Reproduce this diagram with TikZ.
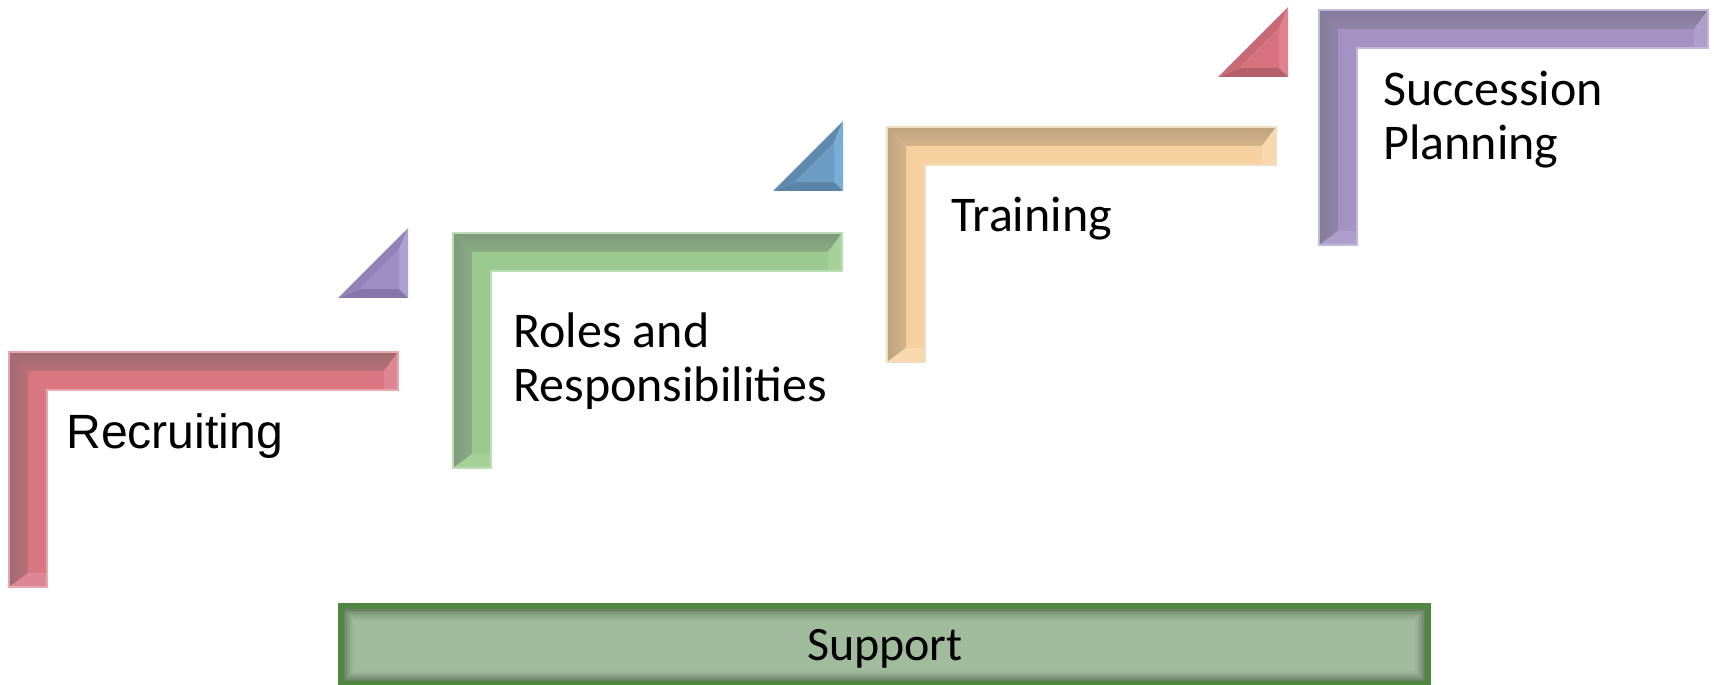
\documentclass[tikz,border=0pt]{standalone}
\usepackage{fontspec}
\setmainfont{Carlito}
\newfontfamily\arialfont{Liberation Sans}
\usetikzlibrary{positioning}
% step colours: L face, D dark facet, E end facet, O outline
\definecolor{Lred}{HTML}{D87782}
\definecolor{Dred}{HTML}{A26A6F}
\definecolor{Ered}{HTML}{DC8793}
\definecolor{Ored}{HTML}{E6A7AF}
\definecolor{Lgreen}{HTML}{9BC98F}
\definecolor{Dgreen}{HTML}{7D997A}
\definecolor{Egreen}{HTML}{A6D29A}
\definecolor{Ogreen}{HTML}{BCDCB3}
\definecolor{Ltan}{HTML}{F6D09E}
\definecolor{Dtan}{HTML}{BDA27E}
\definecolor{Etan}{HTML}{F8D9AE}
\definecolor{Otan}{HTML}{F1DEC2}
\definecolor{Lpurple}{HTML}{A592C3}
\definecolor{Dpurple}{HTML}{847A98}
\definecolor{Epurple}{HTML}{AE9ECC}
\definecolor{Opurple}{HTML}{C4B8D8}
% arrow triangles: H hypotenuse, R right, B bottom, F face
\definecolor{Hblue}{HTML}{5F8AB0}
\definecolor{Rblue}{HTML}{78ADD5}
\definecolor{Bblue}{HTML}{5A84A8}
\definecolor{Fblue}{HTML}{6B9CC4}
\definecolor{Hpurple}{HTML}{9282B7}
\definecolor{Rpurple}{HTML}{AE9FD5}
\definecolor{Bpurple}{HTML}{8575A8}
\definecolor{Fpurple}{HTML}{9D8DC5}
\definecolor{Hred}{HTML}{C96976}
\definecolor{Rred}{HTML}{E2808D}
\definecolor{Bred}{HTML}{B3606B}
\definecolor{Fred}{HTML}{D6717E}
% support bar
\definecolor{Sborder}{HTML}{4F8741}
\definecolor{Sshadow}{HTML}{6A8165}
\definecolor{Sfill}{HTML}{A1BB9D}
\tikzset{
  steptext/.style={anchor=base west,inner sep=0pt,align=left,
    font=\fontsize{28.45}{31.3}\selectfont},
}

\begin{document}
\begin{tikzpicture}[x=0.02cm,y=-0.02cm]
\useasboundingbox (0,0) rectangle (1714,685);
% the four steps
\foreach \x/\y/\c in {9/352/red,453/233/green,887/127/tan,1319/10/purple}{
  \begin{scope}[shift={(\x,\y)}]
  \fill[L\c] (0,0) -| (389,38) -| (38,235) -| (0,0) -- cycle;
  \shade[top color=D\c,bottom color=D\c!60!L\c] (0,0) -- (389,0) -- (375,19) -- (19,19) -- cycle;
  \shade[left color=D\c,right color=D\c!60!L\c] (0,0) -- (19,19) -- (19,221) -- (0,235) -- cycle;
  \fill[E\c] (389,0) -- (389,38) -- (375,38) -- (375,19) -- cycle;
  \fill[E\c] (0,235) -- (38,235) -- (38,221) -- (19,221) -- cycle;
  \draw[O\c,line width=1pt] (0,0) -| (389,38) -| (38,235) -| (0,0) -- cycle;
  \end{scope}
}
% small triangles between the steps
\foreach \x/\y/\c in {408/298/purple,843/191/blue,1288/77/red}{
  \begin{scope}[shift={(\x,\y)}]
  \fill[H\c] (-70,0) -- (0,-70) -- (-9,-48) -- (-48,-9) -- cycle;
  \fill[R\c] (0,-70) -- (0,0) -- (-9,-9) -- (-9,-48) -- cycle;
  \fill[B\c] (0,0) -- (-70,0) -- (-48,-9) -- (-9,-9) -- cycle;
  \fill[F\c] (-48,-9) -- (-9,-48) -- (-9,-9) -- cycle;
  \end{scope}
}
% labels (base = last line)
\node[steptext,font=\arialfont\fontsize{27.4}{30}\selectfont] (recruiting) at (66,449) {Recruiting};
\node[steptext] (roles) at (513,402) {Roles and\\Responsibilities};
\node[steptext] (training) at (951,232) {Training};
\node[steptext] (succession) at (1383,160) {Succession\\Planning};
% support bar
\fill[Sborder] (338,603) rectangle (1431,685);
\fill[Sshadow] (344,609) rectangle (1425,681);
\foreach \k/\p in {1/20,2/38,3/54,4/68,5/80,6/89,7/95,8/100}
  \fill[Sfill!\p!Sshadow] ({344+\k*1.4},{609+\k*1.6}) rectangle ({1425-\k*1.4},{681-\k*1.4});
\node[anchor=base,inner sep=0pt,font=\fontsize{27.3}{30}\selectfont] (support) at (885,660) {Support};
\end{tikzpicture}
\end{document}
